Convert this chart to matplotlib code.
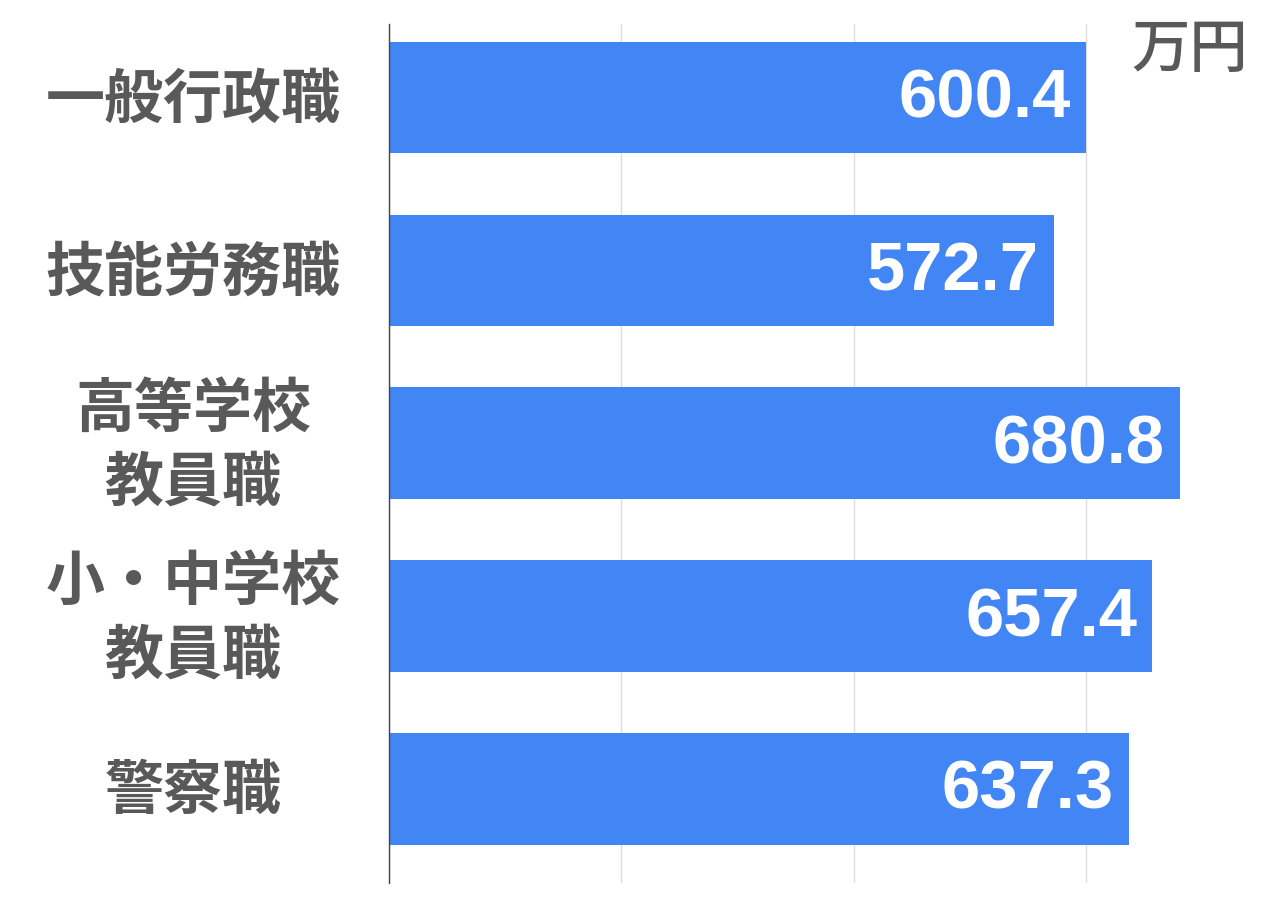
import matplotlib
matplotlib.use("Agg")
import matplotlib.pyplot as plt
import matplotlib.transforms as mtransforms

categories = ["一般行政職", "技能労務職", "高等学校\n教員職", "小・中学校\n教員職", "警察職"]
values = [600.4, 572.7, 680.8, 657.4, 637.3]
unit_label = "万円"
xticks = [0, 200, 400, 600]

plt.rcParams['font.family'] = ['Noto Sans CJK JP', 'DejaVu Sans']

W, H = 1264, 906
fig = plt.figure(figsize=(W / 100, H / 100), dpi=100)
left_px, right_px = 389, 1260
top_px, bot_px = 24, 883
ax = fig.add_axes([left_px / W, 1 - bot_px / H, (right_px - left_px) / W, (bot_px - top_px) / H])

bar_color = "#4285F4"
ypos = list(range(len(categories)))
ax.barh(ypos, values, height=0.645, color=bar_color, zorder=2)

ax.set_xlim(0, 750)
ax.set_ylim(4.544, -0.425)
ax.set_xticks(xticks)
ax.set_xticklabels([])
ax.tick_params(axis='both', length=0)
ax.set_yticks([])
ax.grid(axis='x', color="#dddddd", linewidth=1, zorder=0)
for s in ['top', 'right', 'bottom']:
    ax.spines[s].set_visible(False)
ax.spines['left'].set_color("#444444")
ax.spines['left'].set_linewidth(1)
ax.spines['left'].set_zorder(3)

label_color = "#595959"
trans = mtransforms.blended_transform_factory(fig.transFigure, ax.transData)
for y, cat in zip(ypos, categories):
    ax.text(193 / W, y + 0.02, cat, transform=trans, ha='center', va='center',
            fontsize=42.5, fontweight='bold', color=label_color,
            linespacing=1.3, multialignment='center')

offset = mtransforms.offset_copy(ax.transData, fig=fig, x=-15, y=-2, units='dots')
for y, v in zip(ypos, values):
    ax.text(v, y, f"{v:.1f}", transform=offset, ha='right', va='center',
            fontsize=49.5, fontweight='bold', color='white',
            family=['Liberation Sans', 'DejaVu Sans'], zorder=4)

fig.text(1190 / W, 1 - 50 / H, unit_label, ha='center', va='center',
         fontsize=42, color=label_color, fontweight='medium')

fig.savefig("out.png", dpi=100, facecolor='white')
